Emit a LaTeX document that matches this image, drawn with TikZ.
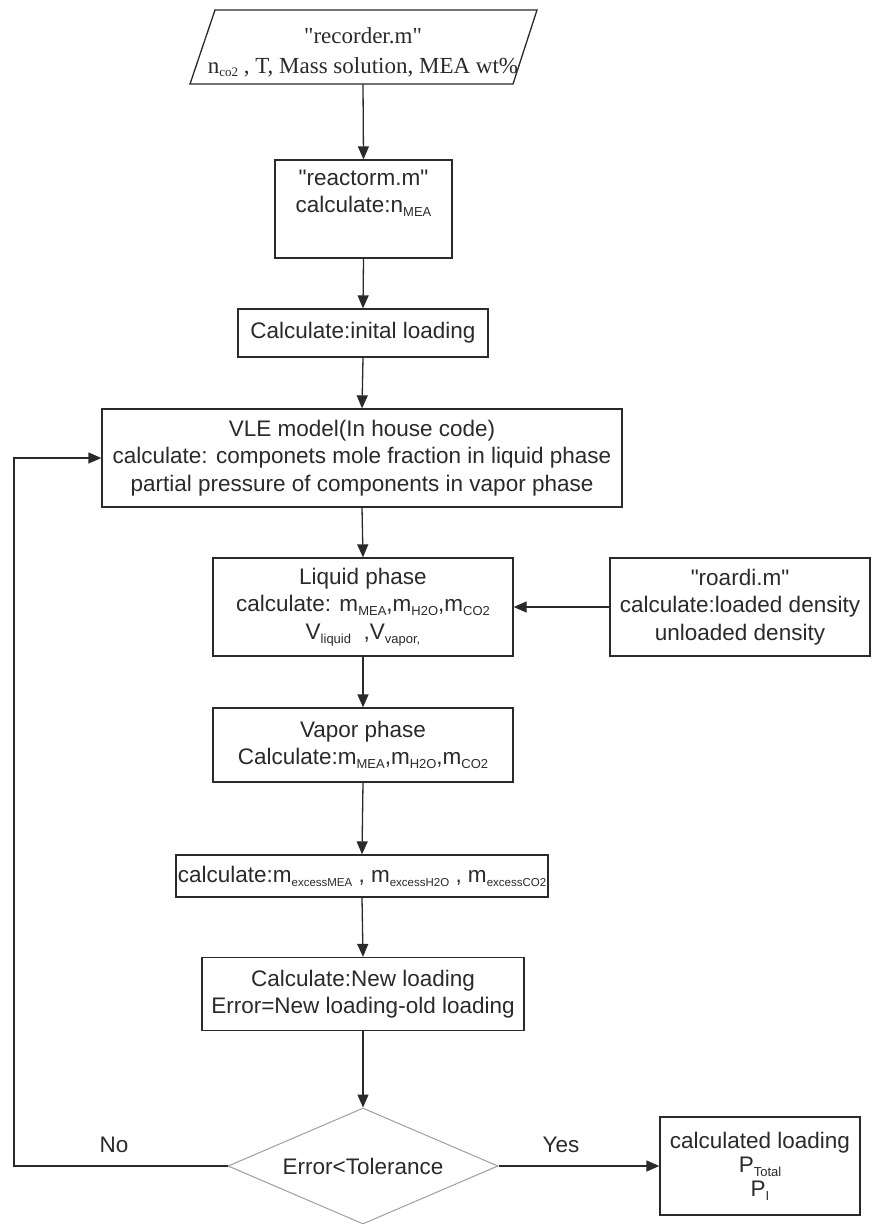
\documentclass[tikz,border=0pt]{standalone}
\usepackage{fontspec}
\newfontfamily\arl{Liberation Sans}
\newfontfamily\tnr{Liberation Serif}
\usetikzlibrary{arrows.meta,shapes.geometric}
\newcommand\sbs[1]{\raisebox{-0.35ex}{\fontsize{13}{13}\selectfont #1}}
\newcommand\sbx[1]{\raisebox{-0.35ex}{\fontsize{11.5}{11.5}\selectfont #1}}
\newcommand\qq{"}
\definecolor{ink}{HTML}{2A2A2A}
\tikzset{
  box/.style={draw=ink, line width=1.3pt, rectangle, inner sep=0pt, align=center, text=ink,
              font=\arl\fontsize{22.5}{27.5}\selectfont},
  plain/.style={inner sep=0pt, align=center, text=ink, font=\arl\fontsize{22.5}{27.5}\selectfont},
  arr/.style={draw=ink, line width=1.3pt, -{Triangle[length=13pt,width=11pt]}},
}
\begin{document}
\begin{tikzpicture}[x=1pt,y=-1pt]
\path[use as bounding box, fill=white] (0,0) rectangle (872,1224);

% input parallelogram
\draw[draw=ink, line width=1.3pt] (215,10) -- (537,10) -- (513,84) -- (190,84) -- cycle;
\node[plain, minimum width=300, minimum height=64, font=\tnr\fontsize{23}{30}\selectfont] (inp) at (363,52)
  {\qq recorder.m\qq\\n\sbs{co2} , T, Mass solution, MEA wt\%};

\node[box, minimum width=177, minimum height=98] (reac) at (363.5,209)
  {\qq reactorm.m\qq\\calculate:n\sbs{MEA}\\\strut};
\node[box, minimum width=250, minimum height=48] (init) at (363,333)
  {Calculate:inital loading};
\node[box, minimum width=520, minimum height=98] (vle) at (362,458)
  {VLE model(In house code)\\calculate: componets mole fraction in liquid phase\\partial pressure of components in vapor phase};
\node[box, minimum width=300, minimum height=98] (liq) at (363,607)
  {Liquid phase\\calculate: m\sbs{MEA},m\sbs{H2O},m\sbs{CO2}\\V\sbs{liquid} \ ,V\sbs{vapor,}};
\node[box, minimum width=260, minimum height=98] (roar) at (740,607)
  {\qq roardi.m\qq\\calculate:loaded density\\unloaded density};
\node[box, minimum width=300, minimum height=74] (vap) at (363,745)
  {Vapor phase\\Calculate:m\sbs{MEA},m\sbs{H2O},m\sbs{CO2}};
\node[box, minimum width=372, minimum height=42] (exc) at (362,876)
  {calculate:m\sbx{excessMEA} , m\sbx{excessH2O} , m\sbx{excessCO2}};
\node[box, minimum width=322, minimum height=73] (newl) at (363,994)
  {Calculate:New loading\\Error=New loading-old loading};
\node[diamond, draw=gray!75, line width=1pt, inner sep=0pt, aspect=2.33,
      minimum width=270, minimum height=116, text=ink, font=\arl\fontsize{22.5}{27.5}\selectfont] (dec) at (363,1166)
  {Error<Tolerance};
\node[box, minimum width=200, minimum height=98, font=\arl\fontsize{22.5}{24}\selectfont] (res) at (760,1166)
  {calculated loading\\P\sbs{Total}\\P\sbs{I}};

\node[plain] (no) at (114,1145) {No};
\node[plain] (yes) at (561,1145) {Yes};

\coordinate (lp) at (14,1166);

\draw[arr] (inp.south) -- (reac.north);
\draw[arr] (reac.south) -- (init.north);
\draw[arr] (init.south) -- (vle.north);
\draw[arr] (vle.south) -- (liq.north);
\draw[arr] (roar.west) -- (liq.east);
\draw[arr] (liq.south) -- (vap.north);
\draw[arr] (vap.south) -- (exc.north);
\draw[arr] (exc.south) -- (newl.north);
\draw[arr] (newl.south) -- (dec.north);
\draw[arr] (dec.east) -- (res.west);
\draw[arr] (dec.west) -- (lp) |- (vle.west);
\end{tikzpicture}
\end{document}
